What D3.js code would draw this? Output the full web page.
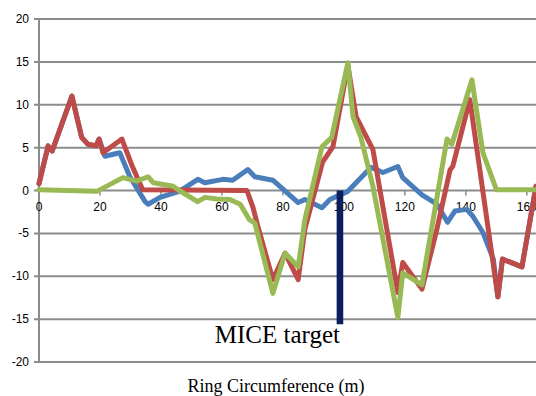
<!DOCTYPE html>
<html>
<head>
<meta charset="utf-8">
<script src="https://cdnjs.cloudflare.com/ajax/libs/d3/7.8.5/d3.min.js"></script>
<style>
    body { margin: 0; background: #fff; }
    .tick-label { font-family: "Liberation Sans", Arial, sans-serif; font-size: 12px; fill: #000; }
    .serif-label { font-family: "Liberation Serif", "Times New Roman", serif; fill: #000; }
</style>
</head>
<body>
<svg id="chart" width="536" height="396"></svg>
<script>
// [position (m), value]
var redPoints = [
    [0, 0.8], [3, 5.2], [4.3, 4.6], [10.8, 11], [14, 6.2], [16, 5.4], [18.7, 5.2], [19.7, 6],
    [21, 4.4], [27.2, 6], [30.5, 2.9], [34, 0.1], [68.2, 0], [70.2, -2], [71.8, -4.2],
    [76.7, -10.4], [80.7, -7.3], [85, -10.4], [87.2, -4.5], [93, 3.3], [96.4, 5.1],
    [101.3, 14.6], [104, 8.6], [109.5, 4.8], [117.7, -11.9], [119.3, -8.4], [125.6, -11.5],
    [130.5, -4.5], [134.8, 2.4], [135.7, 2.8], [141.3, 10.6], [150.5, -12.4], [152, -8],
    [158.4, -8.9], [163, 0.5]
];

var bluePoints = [
    [0, 0.8], [3, 5.2], [4.3, 4.6], [10.8, 11], [14, 6.2], [16, 5.4], [18.7, 5.2], [19.7, 6],
    [21.6, 4], [26.5, 4.4], [29.8, 1.6], [34.8, -1.3], [35.8, -1.6], [39.7, -0.8], [46, -0.1],
    [52.1, 1.3], [54.4, 0.9], [60.3, 1.3], [63.5, 1.2], [68.5, 2.45], [70.8, 1.6], [76.7, 1.2],
    [85, -1.4], [87.2, -1.05], [92.8, -2.0], [95.4, -1.05], [101.3, -0.1], [108.9, 2.7],
    [112.8, 2.1], [117.7, 2.8], [119.3, 1.5], [125.6, -0.5], [130.5, -1.6], [134, -3.7],
    [136.4, -2.4], [140.3, -2.2], [142.3, -3.0], [145.6, -4.9], [149, -8], [150.5, -12.4],
    [152, -8], [158.4, -8.9], [163, 0.5]
];

var greenPoints = [
    [0, 0.1], [19, -0.1], [27.5, 1.5], [32, 1.1], [35.8, 1.6], [37.5, 0.9], [44, 0.5], [46, 0],
    [52, -1.3], [54.5, -0.8], [58.3, -1], [62.6, -1.05], [66, -1.6], [68, -2.8], [69, -3.4],
    [70.8, -3.8], [76.7, -12], [80.7, -7.3], [85, -8.9], [87.2, -3.4], [92.8, 5.1], [96, 6.2],
    [101.3, 14.9], [103, 8.6], [105.5, 6.3], [109.5, 0.5], [117.7, -14.8], [119.3, -9.6],
    [125.6, -11], [133.8, 6], [135.4, 5.4], [142, 12.9], [145.6, 4.4], [150, 0.1], [163, 0.1]
];

var xTicks = [0, 20, 40, 60, 80, 100, 120, 140, 160];
var yTicks = [-20, -15, -10, -5, 0, 5, 10, 15, 20];

var targetPos = 98.7;
var targetDepth = -15.6;

var svg = d3.select('#chart');

var x = d3.scaleLinear().domain([0, 163]).range([39, 536]);
var y = d3.scaleLinear().domain([-20, 20]).range([362, 19]);

//grid
svg.selectAll('.grid')
    .data(yTicks)
    .enter()
    .append('line')
    .attr('x1', 34)
    .attr('x2', 536)
    .attr('y1', function (d) { return y(d); })
    .attr('y2', function (d) { return y(d); })
    .attr('stroke', '#8c8c8c')
    .attr('stroke-width', 2);

svg.append('line')
    .attr('x1', x(0))
    .attr('x2', x(0))
    .attr('y1', y(20))
    .attr('y2', y(-20))
    .attr('stroke', '#8c8c8c')
    .attr('stroke-width', 2);

svg.selectAll('.xtick')
    .data(xTicks)
    .enter()
    .append('line')
    .attr('x1', function (d) { return x(d); })
    .attr('x2', function (d) { return x(d); })
    .attr('y1', y(0))
    .attr('y2', y(0) + 5)
    .attr('stroke', '#8c8c8c')
    .attr('stroke-width', 1.5);

svg.selectAll('.ylabel')
    .data(yTicks)
    .enter()
    .append('text')
    .attr('class', 'tick-label')
    .attr('x', 29)
    .attr('y', function (d) { return y(d) + 4; })
    .attr('text-anchor', 'end')
    .text(function (d) { return d; });

svg.selectAll('.xlabel')
    .data(xTicks)
    .enter()
    .append('text')
    .attr('class', 'tick-label')
    .attr('x', function (d) { return x(d); })
    .attr('y', y(0) + 20)
    .attr('text-anchor', 'middle')
    .text(function (d) { return d; });

//series
var line = d3.line()
    .x(function (d) { return x(d[0]); })
    .y(function (d) { return y(d[1]); });

var series = [
    { pts: bluePoints, color: '#4a7ebb' },
    { pts: redPoints, color: '#be4b48' },
    { pts: greenPoints, color: '#98b954' }
];

series.forEach(function (s) {
    svg.append('path')
        .attr('d', line(s.pts))
        .attr('fill', 'none')
        .attr('stroke', s.color)
        .attr('stroke-width', 5)
        .attr('stroke-linejoin', 'round')
        .attr('stroke-linecap', 'round');
});

//target marker
svg.append('rect')
    .attr('x', x(targetPos) - 3.3)
    .attr('y', y(0))
    .attr('width', 6.6)
    .attr('height', y(targetDepth) - y(0))
    .attr('fill', '#0b1f5c');

svg.append('text')
    .attr('class', 'serif-label')
    .attr('x', x(targetPos))
    .attr('y', 343)
    .attr('text-anchor', 'end')
    .attr('font-size', '25px')
    .text('MICE target');

svg.append('text')
    .attr('class', 'serif-label')
    .attr('x', 276)
    .attr('y', 392)
    .attr('text-anchor', 'middle')
    .attr('font-size', '18px')
    .text('Ring Circumference (m)');
</script>
</body>
</html>
